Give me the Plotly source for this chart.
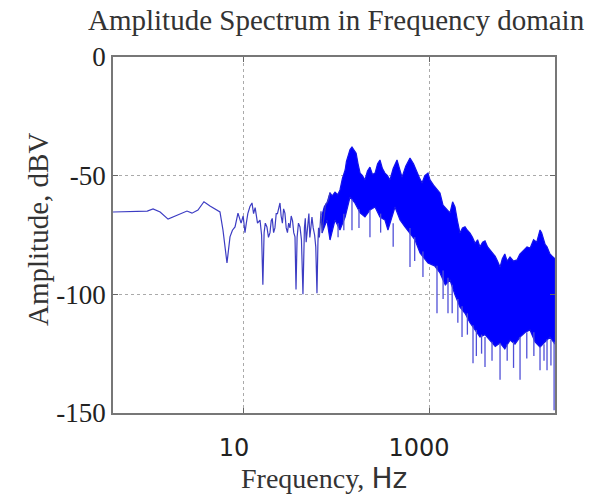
import plotly.graph_objects as go

# ---- data (frequency in Hz, amplitude in dBV) ----
line_freq = [0.384, 0.9, 1.04, 1.24, 1.51, 2.14, 2.42, 2.74, 3.18, 3.69, 4.29, 5.5, 5.93, 6.55,
             7.06, 7.5, 8.0, 8.61, 9.0, 9.3, 9.8, 10.25, 10.6, 11.0, 11.6, 12.2, 12.7, 13.2,
             14.0, 14.9, 15.5, 16.0, 16.5, 17.0, 17.7, 18.4, 19.1, 19.7, 20.2, 20.9, 21.6, 22.3,
             23.0, 23.8, 24.5, 25.2, 26.0, 26.8, 27.7, 28.6, 29.5, 30.4, 31.4, 32.4, 33.5, 34.5,
             35.6, 36.5, 37.5, 38.8, 40.3, 41.8, 43.4, 45.0, 46.0, 47.0, 48.0, 49.2, 50.3, 51.5,
             52.8, 54.3, 56.0, 58.0, 59.7, 61.5, 63.0, 64.0, 65.3, 66.5, 68.0, 69.7, 72.0, 74.0,
             76.5, 78.9, 82.0, 85.1]
line_db = [-65.3, -64.9, -64.0, -65.3, -68.3, -65.8, -64.9, -65.8, -64.5, -61.0, -62.8, -65.3,
           -73.0, -86.8, -75.8, -73.0, -71.6, -65.8, -68.0, -70.0, -67.0, -74.0, -70.0, -66.0,
           -63.0, -61.5, -66.0, -63.5, -70.0, -68.7, -75.0, -96.0, -74.0, -70.0, -71.6, -76.0,
           -74.0, -69.0, -68.0, -74.0, -72.0, -66.0, -66.0, -63.0, -61.5, -67.0, -70.0, -64.0,
           -65.8, -72.0, -74.0, -70.0, -72.0, -67.0, -69.0, -74.0, -75.8, -98.0, -76.0, -70.0,
           -71.6, -77.0, -100.0, -72.0, -68.0, -78.0, -74.0, -70.0, -66.0, -76.0, -70.0, -67.4,
           -72.0, -75.0, -80.0, -99.5, -78.0, -72.0, -76.0, -70.0, -65.0, -74.0, -68.0, -66.0,
           -62.0, -61.5, -60.0, -57.0]

upper_freq = [69.7, 74.0, 78.9, 82.0, 85.1, 90.0, 96.4, 103, 109, 116, 124, 128, 133, 140, 147,
              155, 163, 171, 180, 191, 203, 216, 230, 245, 261, 278, 295, 314, 334, 356, 378,
              410, 451, 480, 511, 560, 623, 680, 742, 790, 840, 900, 975, 1025, 1120, 1220, 1315,
              1417, 1550, 1687, 1800, 1910, 2030, 2163, 2300, 2450, 2600, 2775, 2950, 3150, 3350,
              3557, 3800, 4030, 4300, 4560, 4900, 5200, 5500, 5860, 6200, 6600, 7000, 7510, 8200,
              8940, 9600, 10200, 10800, 11460, 12400, 13500, 14600, 15850, 16500, 17200, 18000,
              18870, 20300, 21930, 23000]
upper_db = [-66.6, -63.0, -61.5, -59.0, -57.3, -58.5, -56.9, -58.0, -56.0, -51.0, -47.6, -44.0,
            -41.3, -39.0, -37.9, -39.5, -40.5, -45.0, -48.9, -50.0, -51.8, -48.0, -46.4, -49.5,
            -48.9, -45.0, -43.4, -47.0, -48.9, -50.0, -51.8, -47.0, -43.4, -47.0, -50.6, -46.0,
            -42.6, -45.0, -48.9, -51.0, -53.1, -50.0, -48.9, -51.8, -54.0, -56.0, -57.3, -62.4,
            -64.0, -65.7, -61.0, -63.2, -69.0, -74.2, -72.0, -71.5, -73.0, -74.2, -76.0, -78.5,
            -77.0, -80.0, -78.0, -77.5, -80.0, -81.3, -83.0, -84.0, -86.0, -88.5, -85.0, -83.0,
            -86.0, -84.3, -86.0, -85.5, -83.0, -82.0, -81.0, -80.0, -80.5, -77.0, -78.0, -72.9,
            -74.0, -76.0, -79.0, -80.0, -83.0, -84.3, -85.0]

lower_freq = [69.7, 78.9, 85.1, 96.4, 109, 124, 140, 158, 180, 203, 230, 261, 295, 334, 360, 429,
              486, 550, 706, 800, 975, 1150, 1315, 1500, 1687, 1900, 2163, 2450, 2775, 3150,
              3557, 4030, 4560, 5200, 5860, 6600, 7510, 8500, 9640, 11000, 12360, 14000, 15850,
              18000, 20330, 23000]
lower_db = [-74.2, -68.7, -77.1, -68.7, -72.9, -67.4, -59.0, -61.5, -65.7, -67.4, -64.5, -63.2,
            -67.4, -68.7, -72.9, -63.2, -68.7, -71.6, -77.1, -82.6, -86.8, -88.0, -91.0, -96.0,
            -94.0, -100.0, -105.4, -108.0, -112.0, -115.0, -118.0, -117.0, -119.3, -122.0,
            -120.5, -123.0, -119.3, -121.0, -118.0, -116.0, -115.0, -120.0, -122.2, -120.0,
            -118.0, -121.0]

spike_freq = [104, 120, 147, 175, 230, 300, 410, 623, 700, 860, 1220, 1420, 1604, 1780, 2050,
              2275, 2600, 2990, 3250, 3700, 4030, 4800, 5860, 7000, 8200, 9640, 11400, 13600,
              15850, 17500, 18870, 20800, 22500]
spike_top = [-70.0, -66.0, -60.0, -64.0, -64.5, -66.0, -70.0, -72.0, -76.0, -82.0, -88.0, -90.0,
             -93.0, -96.0, -102.0, -105.0, -108.0, -113.0, -115.0, -117.0, -118.0, -120.0,
             -120.5, -121.0, -120.0, -118.0, -116.0, -116.0, -122.0, -121.0, -119.0, -119.0,
             -120.0]
spike_bottom = [-76.0, -73.0, -73.0, -72.0, -76.0, -74.0, -80.0, -88.5, -86.0, -92.7, -108.0,
                -102.0, -108.0, -108.0, -112.0, -118.0, -117.0, -129.0, -126.0, -125.0, -130.6,
                -128.0, -136.0, -128.0, -131.0, -136.0, -127.0, -126.0, -132.0, -128.0, -132.0,
                -130.0, -148.8]

x_ticks = [10, 1000]
x_tick_text = ["10", "1000"]
y_ticks = [0, -50, -100, -150]
y_tick_text = ["0", "-50", "-100", "-150"]

# ---- figure ----
fig = go.Figure()

band_x = upper_freq + lower_freq[::-1]
band_y = upper_db + lower_db[::-1]
fig.add_trace(go.Scatter(x=band_x, y=band_y, fill="toself", mode="lines",
                         fillcolor="rgb(0,0,255)", line=dict(color="rgb(20,20,235)", width=1.2),
                         hoverinfo="skip", showlegend=False))

sx, sy = [], []
for f, t, b in zip(spike_freq, spike_top, spike_bottom):
    sx += [f, f, None]
    sy += [t, b, None]
fig.add_trace(go.Scatter(x=sx, y=sy, mode="lines",
                         line=dict(color="rgb(80,80,215)", width=1.3),
                         hoverinfo="skip", showlegend=False))

fig.add_trace(go.Scatter(x=line_freq, y=line_db, mode="lines",
                         line=dict(color="rgb(60,60,195)", width=1.2),
                         showlegend=False))

serif = "Liberation Serif, Times New Roman, serif"
sans = "DejaVu Sans, sans-serif"

fig.update_layout(
    width=594, height=497,
    margin=dict(l=113, r=39, t=57, b=84),
    paper_bgcolor="white", plot_bgcolor="white",
    showlegend=False,
    xaxis=dict(type="log", range=[-0.416, 4.362], automargin=False,
               tickvals=x_ticks, ticktext=x_tick_text,
               tickfont=dict(family=sans, size=24, color="#222"),
               ticks="inside", ticklen=5, tickcolor="#666",
               showline=True, linecolor="#777", linewidth=1.5, mirror="ticks",
               showgrid=True, gridcolor="#aaa", griddash="dot", gridwidth=1,
               zeroline=False, ticklabelshift=-10, ticklabelstandoff=12),
    yaxis=dict(range=[-150, 0], automargin=False,
               tickvals=y_ticks, ticktext=y_tick_text,
               tickfont=dict(family=serif, size=27, color="#222"),
               ticks="inside", ticklen=5, tickcolor="#666",
               showline=True, linecolor="#777", linewidth=1.5, mirror="ticks",
               showgrid=True, gridcolor="#aaa", griddash="dot", gridwidth=1,
               zeroline=False),
    annotations=[
        dict(text="Amplitude Spectrum in Frequency domain", xref="paper", yref="paper",
             x=(336 - 113) / 442, y=1 + (57 - 20) / 356, xanchor="center", yanchor="middle",
             showarrow=False, font=dict(family=serif, size=29, color="#333")),
        dict(text="Amplitude, dBV", xref="paper", yref="paper", textangle=-90,
             x=(38 - 113) / 442, y=(413 - 230) / 356, xanchor="center", yanchor="middle",
             showarrow=False, font=dict(family=serif, size=29, color="#333")),
        dict(text="Frequency, <span style='font-family:DejaVu Sans'>Hz</span>",
             xref="paper", yref="paper",
             x=(324 - 113) / 442, y=-(478 - 413) / 356, xanchor="center", yanchor="middle",
             showarrow=False, font=dict(family=serif, size=28, color="#333")),
    ],
)

fig.write_html("out.html", config={"displayModeBar": False},
               post_script="document.body.style.margin='0px';")
